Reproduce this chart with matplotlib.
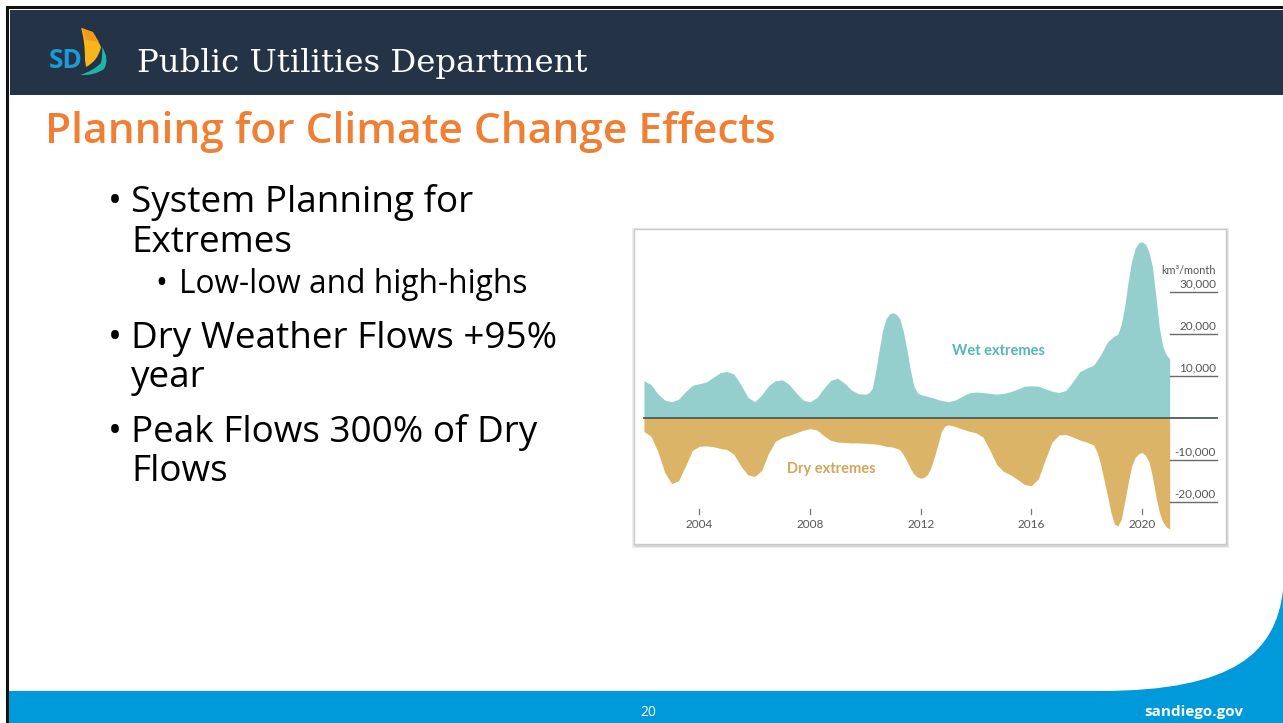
import numpy as np
import matplotlib
matplotlib.use("Agg")
import matplotlib.pyplot as plt
from matplotlib.patches import Rectangle, PathPatch, Polygon
from matplotlib.path import Path

# ---------------- data ----------------
wet_years = [2002.0, 2002.25, 2002.5, 2002.75, 2003.0, 2003.25, 2003.5, 2003.75,
             2004.0, 2004.25, 2004.5, 2004.75, 2005.0, 2005.25, 2005.5, 2005.75,
             2006.0, 2006.25, 2006.5, 2006.75, 2007.0, 2007.25, 2007.5, 2007.75,
             2008.0, 2008.25, 2008.5, 2008.75, 2009.0, 2009.25, 2009.5, 2009.75,
             2010.0, 2010.125, 2010.25, 2010.375, 2010.5, 2010.625, 2010.75, 2010.875,
             2011.0, 2011.125, 2011.25, 2011.375, 2011.5, 2011.625, 2011.75, 2011.875,
             2012.0, 2012.25, 2012.5, 2012.75, 2013.0, 2013.25, 2013.5, 2013.75,
             2014.0, 2014.25, 2014.5, 2014.75, 2015.0, 2015.25, 2015.5, 2015.75,
             2016.0, 2016.25, 2016.5, 2016.75, 2017.0, 2017.25, 2017.5, 2017.75,
             2018.0, 2018.25, 2018.5, 2018.75, 2019.0, 2019.125, 2019.25, 2019.375,
             2019.5, 2019.625, 2019.75, 2019.875, 2020.0, 2020.125, 2020.25, 2020.375,
             2020.5, 2020.625, 2020.75, 2020.875, 2021.0]
wet = [8800, 7900, 5700, 4200, 3800, 4400, 6200, 7700,
       8100, 8500, 9600, 10700, 11000, 10400, 7900, 4900,
       3800, 5400, 7600, 8800, 9000, 7900, 5900, 4200,
       3800, 4800, 7000, 8900, 9400, 8200, 6600, 5700,
       5600, 5900, 7000, 11000, 16200, 20800, 23600, 24700,
       25000, 24600, 23500, 20500, 16300, 11500, 7600, 6000,
       5500, 5100, 4600, 4100, 3800, 4200, 5100, 5900,
       6100, 6000, 5800, 5600, 5800, 6200, 6800, 7500,
       7600, 7500, 6900, 6300, 6000, 6500, 8600, 11000,
       11800, 12500, 14900, 18000, 19500, 19900, 22300, 26500,
       32500, 37300, 40300, 41600, 41900, 41300, 39500, 36000,
       29000, 21500, 17000, 15000, 14000]

dry_years = [2002.0, 2002.25, 2002.5, 2002.75, 2003.0, 2003.25, 2003.5, 2003.75,
             2004.0, 2004.25, 2004.5, 2004.75, 2005.0, 2005.25, 2005.5, 2005.75,
             2006.0, 2006.25, 2006.5, 2006.75, 2007.0, 2007.25, 2007.5, 2007.75,
             2008.0, 2008.25, 2008.5, 2008.75, 2009.0, 2009.25, 2009.5, 2009.75,
             2010.0, 2010.25, 2010.5, 2010.75, 2011.0, 2011.25, 2011.375, 2011.5,
             2011.625, 2011.75, 2011.875, 2012.0, 2012.125, 2012.25, 2012.375, 2012.5,
             2012.625, 2012.75, 2012.875, 2013.0, 2013.25, 2013.5, 2013.75,
             2014.0, 2014.25, 2014.5, 2014.75, 2015.0, 2015.25, 2015.5, 2015.75,
             2016.0, 2016.25, 2016.5, 2016.75, 2017.0, 2017.25, 2017.5, 2017.75,
             2018.0, 2018.25, 2018.375, 2018.5, 2018.625, 2018.75, 2018.875, 2019.0,
             2019.125, 2019.25, 2019.375, 2019.5, 2019.625, 2019.75, 2019.875, 2020.0,
             2020.125, 2020.25, 2020.375, 2020.5, 2020.625, 2020.75, 2020.875, 2021.0]
dry = [-3300, -4400, -8000, -13000, -15700, -15000, -11500, -7800,
       -6800, -6700, -6900, -7300, -7600, -8700, -11500, -13600,
       -14000, -12600, -8500, -5600, -4700, -4200, -3600, -3000,
       -2600, -2900, -4300, -5400, -5800, -5900, -6000, -6000,
       -6100, -6200, -6400, -6800, -7000, -7600, -8800, -10300,
       -12000, -13400, -14100, -14400, -14200, -13500, -11800, -9200,
       -6400, -3200, -2000, -1700, -2100, -2700, -3200,
       -3600, -4600, -7700, -11200, -12800, -13600, -14700, -15900,
       -16200, -14600, -10000, -5800, -4100, -4000, -4600, -5300,
       -5800, -6500, -8200, -11000, -14800, -18500, -22500, -25300,
       -25800, -24200, -20000, -15500, -11500, -9500, -8600, -8300,
       -8900, -10500, -14000, -18700, -22500, -24800, -26000, -26500]

year_ticks = [2004, 2008, 2012, 2016, 2020]
value_ticks = [30000, 20000, 10000, -10000, -20000]
unit_label = "km³/month"
wet_label = "Wet extremes"
dry_label = "Dry extremes"

title_text = "Planning for Climate Change Effects"
header_text = "Public Utilities Department"
bullets = [
    (0, ["System Planning for", "Extremes"]),
    (1, ["Low-low and high-highs"]),
    (0, ["Dry Weather Flows +95%", "year"]),
    (0, ["Peak Flows 300% of Dry", "Flows"]),
]

# ---------------- figure ----------------
W, H = 1283, 723
fig = plt.figure(figsize=(W / 100, H / 100), dpi=100)
fig.patch.set_facecolor("white")

bg = fig.add_axes([0, 0, 1, 1])
bg.set_xlim(0, W)
bg.set_ylim(H, 0)
bg.axis("off")

NAVY = "#243345"
ORANGE = "#F07F33"
BLUE = "#0099DA"

# slide frame (black) and header bar
bg.add_patch(Rectangle((7, 7), W, H, facecolor="white", edgecolor="#111111", lw=2.2, zorder=0))
bg.add_patch(Rectangle((10, 10), W - 10, 85, facecolor=NAVY, edgecolor="none", zorder=1))

# logo
bg.text(49, 68, "SD", color="#1B9BD7", fontsize=19, fontweight="bold",
        family="Open Sans", va="baseline", ha="left", zorder=3)
yel = Path([(81, 28), (95, 33), (101, 47), (98, 61), (86, 67), (85, 60), (85, 40), (81, 28)],
           [Path.MOVETO, Path.CURVE3, Path.CURVE3, Path.CURVE3, Path.CURVE3, Path.LINETO,
            Path.CURVE3, Path.CURVE3])
bg.add_patch(PathPatch(yel, facecolor="#F9B51C", edgecolor="none", zorder=3))
bg.add_patch(Polygon([(82, 28), (93, 32), (99, 42), (86, 40)], closed=True,
                     facecolor="#F39A1E", edgecolor="none", zorder=3))
teal = Path([(102, 47), (110, 59), (104, 69), (94, 76), (80, 75),
             (93, 71), (101, 63), (103, 54), (102, 47)],
            [Path.MOVETO, Path.CURVE3, Path.CURVE3, Path.CURVE3, Path.CURVE3,
             Path.CURVE3, Path.CURVE3, Path.CURVE3, Path.CURVE3])
bg.add_patch(PathPatch(teal, facecolor="#1FB5A8", edgecolor="none", zorder=3))

bg.text(137, 72, header_text, color="white", fontsize=23.3, family="DejaVu Serif",
        va="baseline", ha="left", zorder=3)

# title
bg.text(45, 143, title_text, color=ORANGE, fontsize=30.6, fontweight="semibold",
        family="Open Sans", va="baseline", ha="left", zorder=3)

# bullets
baselines = [212, 252, 293, 348, 387, 442, 481]
k = 0
for level, lines in bullets:
    for j, line in enumerate(lines):
        yb = baselines[k]
        if level == 0:
            if j == 0:
                bg.text(108, yb, "•", fontsize=26.6, family="Open Sans", va="baseline", ha="left")
            bg.text(131, yb, line, fontsize=26.6, family="Open Sans", va="baseline", ha="left")
        else:
            bg.text(155, yb, "•", fontsize=22.8, family="Open Sans", va="baseline", ha="left")
            bg.text(179, yb, line, fontsize=22.8, family="Open Sans", va="baseline", ha="left")
        k += 1

# footer with curve
foot = Path([(9, 691), (1100, 691), (1235, 691), (1276, 652), (1283, 590),
             (1283, 723), (9, 723), (9, 691)],
            [Path.MOVETO, Path.LINETO, Path.CURVE4, Path.CURVE4, Path.CURVE4,
             Path.LINETO, Path.LINETO, Path.CLOSEPOLY])
bg.add_patch(PathPatch(foot, facecolor=BLUE, edgecolor="none", zorder=2))
bg.text(648, 712, "20", color="white", fontsize=10, family="Open Sans",
        ha="center", va="center", zorder=3)
bg.text(1243, 712, "sandiego.gov", color="white", fontsize=11, fontweight="bold",
        family="Open Sans", ha="right", va="center", zorder=3)

# chart frame shadow
bg.add_patch(Rectangle((632, 228), 597, 320, facecolor="#ececec", edgecolor="none", zorder=3))
bg.add_patch(Rectangle((635, 231), 593, 316, facecolor="#d6d6d6", edgecolor="none", zorder=3))

# ---------------- chart ----------------
L, R, T, B = 634, 1226, 229, 544
ax = fig.add_axes([L / W, (H - B) / H, (R - L) / W, (B - T) / H], zorder=5)
ax.set_facecolor("white")

px_per_year = 27.67
x0_px = 699.3  # 2004
xmin = 2004 + (L - x0_px) / px_per_year
xmax = 2004 + (R - x0_px) / px_per_year
zero_px = 417.7
px_per_unit = 42 / 10000
ymax = (zero_px - T) / px_per_unit
ymin = (zero_px - B) / px_per_unit
ax.set_xlim(xmin, xmax)
ax.set_ylim(ymin, ymax)

WET = "#95CFCD"
DRY = "#DCB467"
ax.fill_between(wet_years, 0, wet, color=WET, lw=0, zorder=2)
ax.fill_between(dry_years, 0, dry, color=DRY, lw=0, zorder=2)

def xfrac(yr):
    return (yr - xmin) / (xmax - xmin)

end_frac = (1217 - L) / (R - L)
ax.axhline(0, xmin=xfrac(wet_years[0]), xmax=end_frac, color="#4d5b57", lw=1.3, zorder=3)
lab_x = xmax - (R - 1216) / px_per_year
for v in value_ticks:
    ax.axhline(v, xmin=xfrac(wet_years[-1]), xmax=end_frac, color="#6a6a6a", lw=1.0, zorder=3)
    ax.text(lab_x, v + 600, f"{v:,}", color="#555555",
            fontsize=8.5, family="Lato", ha="right", va="bottom", zorder=4)
ax.text(lab_x, value_ticks[0] + 3700, unit_label, color="#555555",
        fontsize=7.8, family="Lato", ha="right", va="bottom", zorder=4)

xt = ax.get_xaxis_transform()
for yr in year_ticks:
    ax.plot([yr, yr], [0.095, 0.11], transform=xt, color="#777777", lw=0.9, zorder=4)
    ax.text(yr, 0.063, str(yr), transform=xt, color="#555555", fontsize=8.5,
            family="Lato", ha="center", va="center", zorder=4)

ax.text(2014.83, 15900, wet_label, color="#55B7B3", fontsize=10.5, fontweight="bold",
        family="Lato", ha="center", va="center", zorder=4)
ax.text(2008.78, -12200, dry_label, color="#D1A55A", fontsize=10.5, fontweight="bold",
        family="Lato", ha="center", va="center", zorder=4)

ax.set_xticks([])
ax.set_yticks([])
for s in ax.spines.values():
    s.set_color("#c9c9c9")
    s.set_linewidth(1.0)

fig.savefig("out.png", dpi=100, facecolor="white")
